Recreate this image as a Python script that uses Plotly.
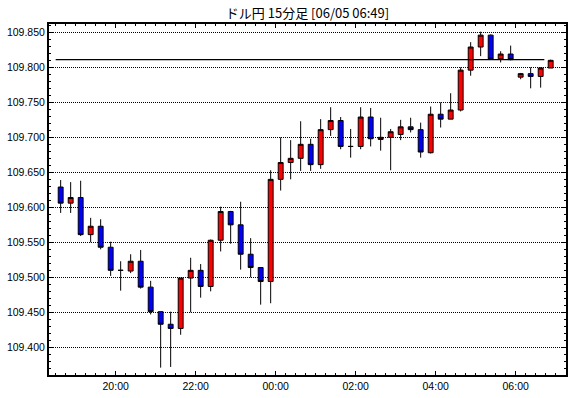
import pandas as pd
import plotly.graph_objects as go

# 15-minute bars, USD/JPY, 06/04 18:30 -> 06/05 06:45
bar_start = "2019-06-04 18:30"
n_bars = 50

open_ = [109.629, 109.606, 109.614, 109.561, 109.573, 109.543, 109.510, 109.509, 109.523, 109.486,
         109.451, 109.433, 109.427, 109.499, 109.510, 109.487, 109.553, 109.594, 109.575, 109.533,
         109.514, 109.494, 109.640, 109.664, 109.670, 109.690, 109.661, 109.711, 109.724, 109.687,
         109.687, 109.729, 109.697, 109.700, 109.704, 109.715, 109.711, 109.678, 109.733, 109.726,
         109.739, 109.796, 109.829, 109.846, 109.812, 109.819, 109.786, 109.791, 109.787, 109.799]
high = [109.639, 109.636, 109.638, 109.585, 109.583, 109.551, 109.523, 109.533, 109.539, 109.495,
        109.451, 109.451, 109.499, 109.528, 109.519, 109.554, 109.601, 109.595, 109.608, 109.556,
        109.514, 109.653, 109.700, 109.696, 109.723, 109.698, 109.726, 109.743, 109.729, 109.712,
        109.743, 109.742, 109.728, 109.712, 109.725, 109.728, 109.721, 109.744, 109.750, 109.763,
        109.800, 109.836, 109.851, 109.847, 109.823, 109.831, 109.792, 109.800, 109.800, 109.811]
low = [109.592, 109.592, 109.559, 109.550, 109.540, 109.502, 109.481, 109.506, 109.484, 109.447,
       109.371, 109.372, 109.418, 109.450, 109.471, 109.480, 109.537, 109.548, 109.511, 109.500,
       109.461, 109.463, 109.624, 109.640, 109.652, 109.652, 109.655, 109.702, 109.683, 109.671,
       109.683, 109.687, 109.681, 109.653, 109.696, 109.707, 109.671, 109.677, 109.714, 109.726,
       109.737, 109.788, 109.816, 109.812, 109.807, 109.810, 109.783, 109.770, 109.771, 109.799]
close = [109.606, 109.614, 109.561, 109.573, 109.543, 109.510, 109.510, 109.523, 109.486, 109.451,
         109.433, 109.427, 109.499, 109.510, 109.487, 109.553, 109.594, 109.575, 109.533, 109.514,
         109.494, 109.640, 109.664, 109.670, 109.690, 109.661, 109.711, 109.724, 109.687, 109.687,
         109.729, 109.698, 109.700, 109.708, 109.715, 109.711, 109.679, 109.733, 109.726, 109.739,
         109.796, 109.829, 109.846, 109.812, 109.819, 109.811, 109.791, 109.787, 109.799, 109.810]

ref_level = 109.811
ref_start = "2019-06-04 18:30"
ref_end = "2019-06-05 06:43"

title_text = "ドル円 15分足 [06/05 06:49]"

times = pd.date_range(bar_start, periods=n_bars, freq="15min")
x = times + pd.Timedelta(minutes=7.5)  # centre candles in their slot

fig = go.Figure()
fig.add_trace(go.Scatter(
    x=[ref_start, ref_end], y=[ref_level, ref_level], mode="lines",
    line=dict(color="black", width=1.2), hoverinfo="skip"))
fig.add_trace(go.Candlestick(
    x=x, open=open_, high=high, low=low, close=close,
    increasing=dict(line=dict(color="black", width=1), fillcolor="#ff0000"),
    decreasing=dict(line=dict(color="black", width=1), fillcolor="#0000ff"),
    whiskerwidth=0))

tickfont = dict(family="Liberation Sans, Arial, sans-serif", size=10.5, color="black")

fig.update_layout(
    width=570, height=398,
    margin=dict(l=49, r=4, t=24, b=23),
    paper_bgcolor="white", plot_bgcolor="white",
    showlegend=False,
    title=dict(text=title_text, x=0.5395, xanchor="center", y=1 - 13 / 398, yanchor="middle",
               font=dict(family="Noto Sans CJK JP", size=13, color="black")),
    xaxis=dict(
        type="date", range=["2019-06-04 18:20", "2019-06-05 07:15:30"],
        rangeslider=dict(visible=False), automargin=False,
        tickformat="%H:%M", dtick=7200000, tick0="2019-06-04 20:00",
        ticks="inside", ticklen=4, tickwidth=1, tickcolor="black",
        minor=dict(ticks="inside", ticklen=2, tickwidth=1, tickcolor="black",
                   dtick=900000, tick0="2019-06-04 20:00", showgrid=False),
        showgrid=False, zeroline=False,
        showline=True, linecolor="black", linewidth=2, mirror="ticks",
        tickfont=tickfont),
    yaxis=dict(
        range=[109.3605, 109.8619], automargin=False,
        dtick=0.05, tick0=109.35, tickformat=".3f",
        ticks="inside", ticklen=4, tickwidth=1, tickcolor="black",
        minor=dict(ticks="inside", ticklen=2, tickwidth=1, tickcolor="black",
                   dtick=0.01, tick0=109.35, showgrid=False),
        showgrid=True, gridcolor="black", gridwidth=1, griddash="1px,1px",
        zeroline=False,
        showline=True, linecolor="black", linewidth=2, mirror="ticks",
        tickfont=tickfont),
)

fig.write_html("out.html", config={"displayModeBar": False},
               post_script="document.body.style.margin='0';")
